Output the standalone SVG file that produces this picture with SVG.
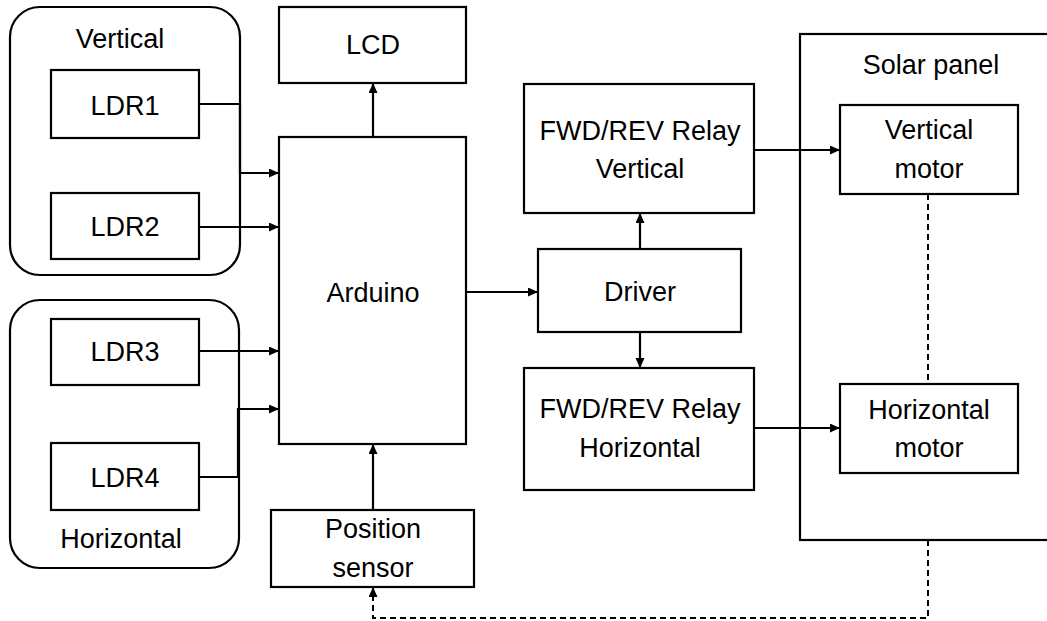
<svg xmlns="http://www.w3.org/2000/svg" width="1047" height="621" viewBox="0 0 1047 621">
<style>
.box{fill:#fff;stroke:#000;stroke-width:2.2}
.grp{fill:none;stroke:#000;stroke-width:2.2}
.t{font-family:"Liberation Sans",Arial,sans-serif;font-size:27px;fill:#000;text-anchor:middle}
.c{fill:none;stroke:#000;stroke-width:2.2}
.d{fill:none;stroke:#000;stroke-width:2;stroke-dasharray:6 4}
</style>
<defs>
<marker id="ah" markerUnits="userSpaceOnUse" markerWidth="11" markerHeight="10" refX="10" refY="4.5" orient="auto">
<path d="M0,0 L10,4.5 L0,9 z" fill="#000"/>
</marker>
</defs>
<rect width="1047" height="621" fill="#fff"/>
<g id="group-vertical">
<rect class="grp" x="10" y="7" width="230" height="268" rx="30" ry="30"/>
<text class="t" x="120" y="48">Vertical</text>
</g>
<g id="group-horizontal">
<rect class="grp" x="10" y="300" width="229" height="268" rx="30" ry="30"/>
<text class="t" x="121" y="548">Horizontal</text>
</g>
<g id="solar-panel">
<rect class="box" x="800" y="34" width="260" height="506"/>
<text class="t" x="931" y="74">Solar panel</text>
</g>
<g id="connectors">
<path class="c" d="M199,104 H240 V173 H279" marker-end="url(#ah)"/>
<path class="c" d="M199,227 H279" marker-end="url(#ah)"/>
<path class="c" d="M199,351 H279" marker-end="url(#ah)"/>
<path class="c" d="M199,477 H238 V409 H279" marker-end="url(#ah)"/>
<path class="c" d="M373,137 V83" marker-end="url(#ah)"/>
<path class="c" d="M373,510 V444" marker-end="url(#ah)"/>
<path class="c" d="M466,292 H538" marker-end="url(#ah)"/>
<path class="c" d="M640,249 V213" marker-end="url(#ah)"/>
<path class="c" d="M640,332 V368" marker-end="url(#ah)"/>
<path class="c" d="M754,150 H840" marker-end="url(#ah)"/>
<path class="c" d="M754,428 H840" marker-end="url(#ah)"/>
<path class="d" d="M928,194 V384"/>
<path class="d" d="M928,540 V618 H373 V587" marker-end="url(#ah)"/>
</g>
<g id="ldr1">
<rect class="box" x="51" y="70" width="148" height="68"/>
<text class="t" x="125" y="115">LDR1</text>
</g>
<g id="ldr2">
<rect class="box" x="51" y="193" width="148" height="66"/>
<text class="t" x="125" y="236">LDR2</text>
</g>
<g id="ldr3">
<rect class="box" x="51" y="319" width="148" height="66"/>
<text class="t" x="125" y="361">LDR3</text>
</g>
<g id="ldr4">
<rect class="box" x="51" y="443" width="148" height="67"/>
<text class="t" x="125" y="487">LDR4</text>
</g>
<g id="lcd">
<rect class="box" x="279" y="7" width="187" height="76"/>
<text class="t" x="373" y="54">LCD</text>
</g>
<g id="arduino">
<rect class="box" x="279" y="137" width="187" height="307"/>
<text class="t" x="373" y="302">Arduino</text>
</g>
<g id="position-sensor">
<rect class="box" x="271" y="510" width="203" height="77"/>
<text class="t" x="373" y="538">Position</text>
<text class="t" x="373" y="577">sensor</text>
</g>
<g id="relay-vertical">
<rect class="box" x="524" y="84" width="230" height="129"/>
<text class="t" x="640" y="140">FWD/REV Relay</text>
<text class="t" x="640" y="178">Vertical</text>
</g>
<g id="driver">
<rect class="box" x="538" y="249" width="203" height="83"/>
<text class="t" x="640" y="301">Driver</text>
</g>
<g id="relay-horizontal">
<rect class="box" x="524" y="368" width="230" height="122"/>
<text class="t" x="640" y="418">FWD/REV Relay</text>
<text class="t" x="640" y="457">Horizontal</text>
</g>
<g id="vertical-motor">
<rect class="box" x="840" y="105" width="178" height="89"/>
<text class="t" x="929" y="139">Vertical</text>
<text class="t" x="929" y="178">motor</text>
</g>
<g id="horizontal-motor">
<rect class="box" x="840" y="384" width="178" height="89"/>
<text class="t" x="929" y="419">Horizontal</text>
<text class="t" x="929" y="457">motor</text>
</g>
</svg>
